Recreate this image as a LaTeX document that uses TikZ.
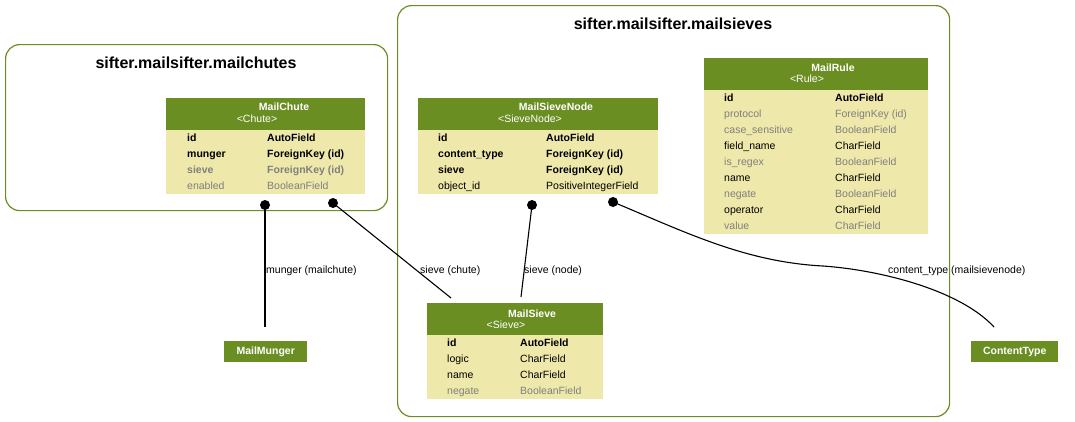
\documentclass[tikz,border=0pt]{standalone}
\usepackage{fontspec}
\setmainfont{Liberation Sans}
\definecolor{hdrgreen}{HTML}{6B8E23}
\definecolor{bodyfill}{HTML}{EEE8AA}
\definecolor{greytext}{HTML}{808080}
\begin{document}
\begin{tikzpicture}[x=1pt,y=-1pt,
  cluster/.style={draw=hdrgreen, line width=1.2pt, rounded corners=14pt, anchor=north west, inner sep=0},
  hdr/.style={fill=hdrgreen, anchor=north west, inner sep=0, minimum height=32pt},
  bodyf/.style={fill=bodyfill, anchor=north west, inner sep=0},
  ttl/.style={font=\bfseries\fontsize{16}{18}\selectfont, anchor=base, inner sep=0},
  htitle/.style={font=\bfseries\fontsize{10.5}{12}\selectfont, text=white, anchor=base, inner sep=0},
  hsub/.style={font=\fontsize{10.5}{12}\selectfont, text=white, anchor=base, inner sep=0},
  fb/.style={font=\bfseries\fontsize{10.5}{12}\selectfont, anchor=base west, inner sep=0},
  fn/.style={font=\fontsize{10.5}{12}\selectfont, anchor=base west, inner sep=0},
  fgb/.style={fb, text=greytext},
  fg/.style={fn, text=greytext},
  smallbox/.style={fill=hdrgreen, text=white, font=\bfseries\fontsize{10.5}{12}\selectfont, anchor=north west, inner sep=0, minimum height=21pt},
  dotn/.style={circle, fill=black, inner sep=0, minimum size=10pt},
  edgeline/.style={draw=black, line width=1.1pt}
]
\useasboundingbox (0,0) rectangle (1075,421);

% clusters
\node[cluster, minimum width=382pt, minimum height=166pt] (c1) at (5,44) {};
\node[ttl] (c1t) at (196,68) {sifter.mailsifter.mailchutes};
\node[cluster, minimum width=552pt, minimum height=411pt] (c2) at (397,5) {};
\node[ttl] (c2t) at (673,29.5) {sifter.mailsifter.mailsieves};

% MailChute
\node[hdr, minimum width=199pt] (chH) at (166,98) {};
\node[bodyf, minimum width=199pt, minimum height=64pt] (chB) at (166,130) {};
\node[htitle] (chT) at (284,110.5) {MailChute};
\node[hsub] (chS) at (257,122) {<Chute>};
\node[fb] (ch1a) at (187,141.5) {id};
\node[fb] (ch1b) at (267,141.5) {AutoField};
\node[fb] (ch2a) at (187,157.5) {munger};
\node[fb] (ch2b) at (267,157.5) {ForeignKey (id)};
\node[fgb] (ch3a) at (187,173.5) {sieve};
\node[fgb] (ch3b) at (267,173.5) {ForeignKey (id)};
\node[fg] (ch4a) at (187,189.5) {enabled};
\node[fg] (ch4b) at (267,189.5) {BooleanField};

% MailSieveNode
\node[hdr, minimum width=240pt] (snH) at (418,98) {};
\node[bodyf, minimum width=240pt, minimum height=64pt] (snB) at (418,130) {};
\node[htitle] (snT) at (556,110.5) {MailSieveNode};
\node[hsub] (snS) at (530,122.5) {<SieveNode>};
\node[fb] (sn1a) at (438,141.5) {id};
\node[fb] (sn1b) at (546,141.5) {AutoField};
\node[fb] (sn2a) at (438,157.5) {content\_type};
\node[fb] (sn2b) at (546,157.5) {ForeignKey (id)};
\node[fb] (sn3a) at (438,173.5) {sieve};
\node[fb] (sn3b) at (546,173.5) {ForeignKey (id)};
\node[fn] (sn4a) at (438,189.5) {object\_id};
\node[fn] (sn4b) at (546,189.5) {PositiveIntegerField};

% MailRule
\node[hdr, minimum width=224pt] (mrH) at (704,58) {};
\node[bodyf, minimum width=224pt, minimum height=144pt] (mrB) at (704,90) {};
\node[htitle] (mrT) at (833,71) {MailRule};
\node[hsub] (mrS) at (807,82.5) {<Rule>};
\node[fb] (mr1a) at (724,101) {id};
\node[fb] (mr1b) at (835,101) {AutoField};
\node[fg] (mr2a) at (724,117) {protocol};
\node[fg] (mr2b) at (835,117) {ForeignKey (id)};
\node[fg] (mr3a) at (724,133) {case\_sensitive};
\node[fg] (mr3b) at (835,133) {BooleanField};
\node[fn] (mr4a) at (724,149) {field\_name};
\node[fn] (mr4b) at (835,149) {CharField};
\node[fg] (mr5a) at (724,165) {is\_regex};
\node[fg] (mr5b) at (835,165) {BooleanField};
\node[fn] (mr6a) at (724,181) {name};
\node[fn] (mr6b) at (835,181) {CharField};
\node[fg] (mr7a) at (724,197) {negate};
\node[fg] (mr7b) at (835,197) {BooleanField};
\node[fn] (mr8a) at (724,213) {operator};
\node[fn] (mr8b) at (835,213) {CharField};
\node[fg] (mr9a) at (724,229) {value};
\node[fg] (mr9b) at (835,229) {CharField};

% MailSieve
\node[hdr, minimum width=176pt] (msH) at (427,303) {};
\node[bodyf, minimum width=176pt, minimum height=64pt] (msB) at (427,335) {};
\node[htitle] (msT) at (532,317) {MailSieve};
\node[hsub] (msS) at (506,328) {<Sieve>};
\node[fb] (ms1a) at (447,346.5) {id};
\node[fb] (ms1b) at (520,346.5) {AutoField};
\node[fn] (ms2a) at (447,362.5) {logic};
\node[fn] (ms2b) at (520,362.5) {CharField};
\node[fn] (ms3a) at (447,378.5) {name};
\node[fn] (ms3b) at (520,378.5) {CharField};
\node[fg] (ms4a) at (447,394.5) {negate};
\node[fg] (ms4b) at (520,394.5) {BooleanField};

% small boxes
\node[smallbox, minimum width=83pt] (mm) at (224,341) {MailMunger};
\node[smallbox, minimum width=87pt] (ct) at (971,341) {ContentType};

% connector ends
\coordinate (e1) at (265,327);
\coordinate (e2) at (451,298);
\coordinate (e3) at (521,297);
\coordinate (e4) at (994,327);

% dots
\node[dotn] (d1) at (265,205) {};
\node[dotn] (d2) at (333,203) {};
\node[dotn] (d3) at (532,205) {};
\node[dotn] (d4) at (613,202) {};

\draw[edgeline] (d1.center) -- (e1);
\draw[edgeline] (d2.center) -- (e2);
\draw[edgeline] (d3.center) -- (e3);
\draw[edgeline] (d4.center) .. controls (685,232) and (745,262) .. (823,266)
  .. controls (880,270) and (960,290) .. (e4);

% edge labels
\node[fn] (l1) at (266,273.5) {munger (mailchute)};
\node[fn] (l2) at (420,273.5) {sieve (chute)};
\node[fn] (l3) at (524,273.5) {sieve (node)};
\node[fn] (l4) at (888,273.5) {content\_type (mailsievenode)};
\end{tikzpicture}
\end{document}
